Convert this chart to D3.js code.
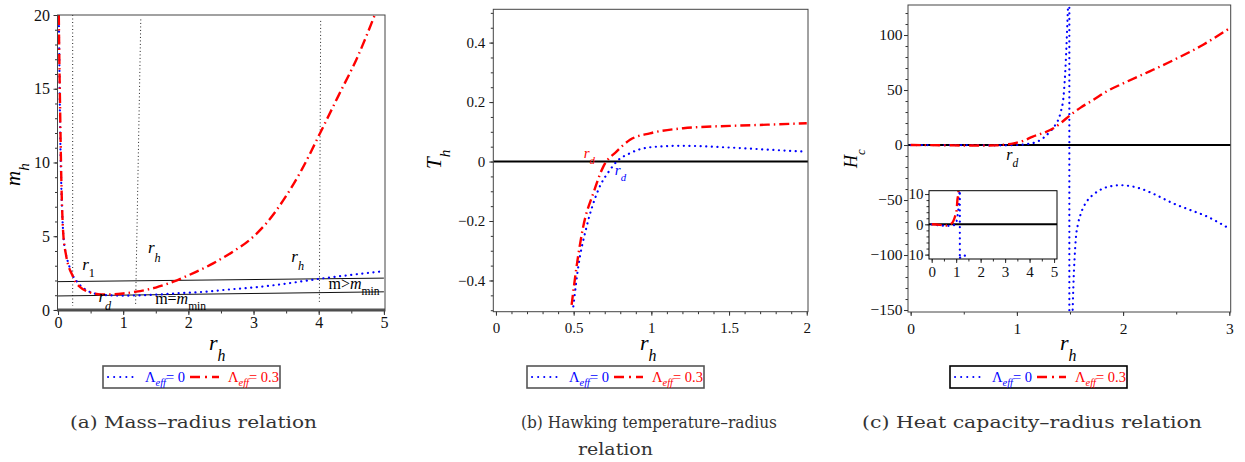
<!DOCTYPE html>
<html>
<head>
<meta charset="utf-8">
<script src="https://cdn.jsdelivr.net/npm/d3@7"></script>
<style>
body { margin: 0; background: #fff; }
svg { display: block; }
</style>
</head>
<body>
<svg width="1245" height="462"></svg>
<script>
// (a) mass-radius, values as [r_h, m_h]
var massBlue = [[0.012,20],[0.02,17],[0.03,13],[0.05,8.5],[0.08,5.2],[0.12,3.8],[0.16,3.16],[0.2,2.6],
  [0.29,1.92],[0.4,1.45],[0.5,1.2],[0.6,1.07],[0.75,1.0],[1.0,0.97],[1.25,0.99],[1.51,1.04],[1.9,1.15],
  [2.2,1.22],[2.6,1.38],[3.2,1.62],[3.6,1.85],[4.02,2.12],[4.5,2.38],[4.94,2.6]];
var massRed = [[0.012,20],[0.02,17],[0.03,14.2],[0.05,9],[0.08,5.2],[0.12,3.8],[0.16,3.0],[0.21,2.45],
  [0.27,1.9],[0.34,1.55],[0.45,1.25],[0.55,1.12],[0.65,1.06],[0.8,1.06],[1.0,1.12],[1.2,1.24],[1.5,1.52],
  [1.77,1.92],[2.0,2.35],[2.38,3.16],[2.7,4.0],[2.94,4.75],[3.2,5.9],[3.46,7.46],[3.75,9.6],[4.02,11.98],
  [4.3,14.5],[4.6,17.2],[4.86,20]];
var massLevels = [[[0,1.92],[5,2.16]], [[0,0.95],[5,1.23]]];
var massVerticals = [[[0.225,20],[0.225,0.27]], [[1.27,19.7],[1.19,0.25]], [[4.03,19.6],[4.01,0.55]]];

// (b) Hawking temperature, [r_h, T_h]
var tempBlue = [[0.498,-0.487],[0.53,-0.353],[0.584,-0.218],[0.659,-0.095],[0.734,-0.028],[0.777,0],
  [0.863,0.028],[0.991,0.048],[1.185,0.053],[1.506,0.047],[1.75,0.04],[2,0.033]];
var tempRed = [[0.487,-0.482],[0.519,-0.353],[0.562,-0.218],[0.627,-0.106],[0.691,-0.017],[0.777,0.034],
  [0.863,0.073],[0.991,0.095],[1.206,0.112],[1.506,0.12],[1.75,0.124],[2,0.129]];

// (c) heat capacity, [r_h, H_c]
var heatRed = [[0,0],[0.3,-0.2],[0.6,-0.5],[0.8,-0.3],[0.9,0.5],[0.97,1.5],[1.05,3.5],[1.15,7.6],
  [1.25,11],[1.34,15],[1.42,20.5],[1.5,27],[1.6,34],[1.72,41],[1.85,49],[2.0,56],[2.25,67],[2.47,77],
  [2.75,91],[3.0,106]];
var heatBlueUpper = [[0,0],[0.5,0],[0.8,-0.3],[1.0,0],[1.1,1],[1.19,3],[1.25,6.5],[1.31,12],[1.36,18],
  [1.41,29],[1.44,45],[1.46,75],[1.475,110],[1.485,135]];
var heatBlueJump = [[1.494,135],[1.494,-160]];
var heatBlueLower = [[1.522,-160],[1.525,-150],[1.535,-120],[1.545,-100],[1.555,-85],[1.575,-72],
  [1.6,-63],[1.66,-51],[1.72,-45],[1.78,-41],[1.88,-37.5],[1.97,-36.5],[2.16,-39.5],[2.3,-45],
  [2.47,-53],[2.63,-59],[2.79,-65],[3.0,-76]];
var insetRed = [[0,0],[0.34,-0.2],[0.6,-0.4],[0.82,0.3],[0.95,2.5],[1.02,4.7],[1.05,8],[1.09,10.4],[1.1,12]];
var insetBlue = [[0,0],[0.6,-0.5],[0.95,-0.2],[1.05,2.5],[1.1,5.8],[1.13,9.7],[1.14,12]];
var insetBlueJump = [[1.15,12],[1.15,-11.5]];
var insetBlueLow = [[1.16,-11],[1.18,-10.6],[1.3,-10.4],[1.5,-10.2]];

// ticks
var massXMajor = [0,1,2,3,4,5], massXMinor = d3.range(0,5.01,0.5);
var massYMajor = [0,5,10,15,20], massYMinor = d3.range(0,20.1,1);
var tempXMajor = [0,0.5,1,1.5,2], tempXMinor = d3.range(0,2.001,0.1);
var tempYMajor = [-0.4,-0.2,0,0.2,0.4], tempYMinor = d3.range(-0.5,0.501,0.05);
var heatXMajor = [0,1,2,3], heatXMinor = d3.range(0,3.01,0.5);
var heatYMajor = [-150,-100,-50,0,50,100], heatYMinor = d3.range(-150,121,10);
var insetXMajor = [0,1,2,3,4,5], insetYMajor = [-10,0,10];

var captions = ["(a)  Mass\u2013radius relation", "(b) Hawking temperature\u2013radius", "relation",
  "(c) Heat capacity\u2013radius relation"];

var serif = "'Liberation Serif', serif";
var capFont = "'DejaVu Serif', serif";
var blue = "#0000ff", red = "#ff0000";
var svg = d3.select("svg");
var fmt = d3.format("~g");
var clipId = 0;

function rich(sel, x, y, parts, size, color) {
  var t = sel.append("text").attr("x", x).attr("y", y)
    .attr("font-size", size).attr("font-family", serif).attr("fill", color || "#000");
  var shift = 0;
  parts.forEach(function(p) {
    var target = p.sub ? size * (p.dy || 0.45) : 0;
    var ts = t.append("tspan").text(p.t).attr("dy", target - shift);
    shift = target;
    if (p.sub) ts.attr("font-size", size * 0.72);
    if (p.it) ts.attr("font-style", "italic");
  });
  return t;
}

function makePanel(p) {
  var g = svg.append("g");
  var x = d3.scaleLinear().domain(p.xd).range([p.box.l, p.box.r]);
  var y = d3.scaleLinear().domain(p.yd).range([p.box.b, p.box.t]);
  var id = "clip" + (clipId++);
  svg.append("clipPath").attr("id", id).append("rect")
    .attr("x", p.box.l).attr("y", p.box.t)
    .attr("width", p.box.r - p.box.l).attr("height", p.box.b - p.box.t);

  if (p.bg) g.append("rect").attr("x", p.box.l).attr("y", p.box.t)
    .attr("width", p.box.r - p.box.l).attr("height", p.box.b - p.box.t).attr("fill", "#fff");

  var ax = [
    g.append("g").attr("transform", "translate(0," + p.box.b + ")")
      .call(d3.axisBottom(x).tickValues(p.xMinor || []).tickSize(2.5).tickFormat("")),
    g.append("g").attr("transform", "translate(0," + p.box.b + ")")
      .call(d3.axisBottom(x).tickValues(p.xMajor).tickSize(4).tickPadding(p.xPad).tickFormat(fmt)),
    g.append("g").attr("transform", "translate(" + p.box.l + ",0)")
      .call(d3.axisLeft(y).tickValues(p.yMinor || []).tickSize(2.5).tickFormat("")),
    g.append("g").attr("transform", "translate(" + p.box.l + ",0)")
      .call(d3.axisLeft(y).tickValues(p.yMajor).tickSize(4).tickPadding(p.yPad).tickFormat(p.yFmt || fmt))
  ];
  ax.forEach(function(a) {
    a.attr("font-family", serif);
    a.select(".domain").remove();
    a.selectAll("line").attr("stroke", "#333");
    a.selectAll("text").attr("font-family", serif).attr("font-size", p.fs || 15).attr("fill", "#111");
  });

  var plot = g.append("g").attr("clip-path", "url(#" + id + ")");
  g.append("rect").attr("x", p.box.l).attr("y", p.box.t)
    .attr("width", p.box.r - p.box.l).attr("height", p.box.b - p.box.t)
    .attr("fill", "none").attr("stroke", p.frame || "#444").attr("stroke-width", 1);
  return { g: g, plot: plot, x: x, y: y };
}

function draw(P, data, style, curve) {
  var line = d3.line().x(function(d) { return P.x(d[0]); }).y(function(d) { return P.y(d[1]); })
    .curve(curve || d3.curveMonotoneX);
  var path = P.plot.append("path").datum(data).attr("d", line).attr("fill", "none");
  if (style === "blue") path.attr("stroke", blue).attr("stroke-width", 2.2)
    .attr("stroke-linecap", "round").attr("stroke-dasharray", "0.1 5.5");
  else if (style === "red") path.attr("stroke", red).attr("stroke-width", 2.4)
    .attr("stroke-dasharray", "10 4 1.5 4");
  else if (style === "dot") path.attr("stroke", "#222").attr("stroke-width", 1)
    .attr("stroke-dasharray", "1 2.5");
  else path.attr("stroke", style.c).attr("stroke-width", style.w);
  return path;
}

function legend(x0, y0, border) {
  var g = svg.append("g");
  g.append("rect").attr("x", x0).attr("y", y0).attr("width", 177).attr("height", 22)
    .attr("fill", "#fff").attr("stroke", border).attr("stroke-width", 1.6);
  var cy = y0 + 11;
  g.append("line").attr("x1", x0 + 5).attr("x2", x0 + 30).attr("y1", cy).attr("y2", cy)
    .attr("stroke", blue).attr("stroke-width", 2).attr("stroke-linecap", "round")
    .attr("stroke-dasharray", "0.1 6");
  rich(g, x0 + 42, cy + 5, [{t: "\u039b"}, {t: "eff", it: true, sub: true, dy: 0.3}, {t: "= 0"}], 14.5, blue);
  g.append("line").attr("x1", x0 + 87).attr("x2", x0 + 116).attr("y1", cy).attr("y2", cy)
    .attr("stroke", red).attr("stroke-width", 2.6).attr("stroke-dasharray", "10 5 2 5");
  rich(g, x0 + 125, cy + 5, [{t: "\u039b"}, {t: "eff", it: true, sub: true, dy: 0.3}, {t: "= 0.3"}], 14.5, red);
}

// ---------- (a) ----------
var A = makePanel({ box: {l: 57.5, r: 385, t: 15, b: 311}, xd: [-0.008, 5.017], yd: [-0.07, 20],
  xMajor: massXMajor, xMinor: massXMinor, yMajor: massYMajor, yMinor: massYMinor, xPad: 2, yPad: 3.5, fs: 16 });
massVerticals.forEach(function(v) { draw(A, v, "dot", d3.curveLinear); });
massLevels.forEach(function(v) { draw(A, v, {c: "#111", w: 1}, d3.curveLinear); });
draw(A, [[-0.1, 0], [5.1, 0]], {c: "#555", w: 3}, d3.curveLinear);
draw(A, massBlue, "blue");
draw(A, massRed, "red");
rich(A.g, A.x(0.37), A.y(2.7), [{t: "r", it: true}, {t: "1", sub: true, dy: 0.4}], 17);
rich(A.g, A.x(1.38), A.y(3.86), [{t: "r", it: true}, {t: "h", it: true, sub: true, dy: 0.5}], 17);
rich(A.g, A.x(3.58), A.y(3.27), [{t: "r", it: true}, {t: "h", it: true, sub: true, dy: 0.5}], 17);
rich(A.g, A.x(0.62), A.y(0.56), [{t: "r", it: true}, {t: "d", it: true, sub: true, dy: 0.5}], 17);
rich(A.g, A.x(1.49), A.y(0.41), [{t: "m="}, {t: "m", it: true}, {t: "min", sub: true, dy: 0.4}], 16);
rich(A.g, A.x(4.15), A.y(1.42), [{t: "m>"}, {t: "m", it: true}, {t: "min", sub: true, dy: 0.4}], 16);
rich(svg, 0, 0, [{t: "m", it: true}, {t: "h", it: true, sub: true, dy: 0.45}], 21)
  .attr("transform", "translate(20,186) rotate(-90)");
rich(svg, 209, 350, [{t: "r", it: true}, {t: "h", it: true, sub: true, dy: 0.5}], 22);
legend(103, 366, "#555");

// ---------- (b) ----------
var B = makePanel({ box: {l: 493.3, r: 808, t: 9.3, b: 311.7}, xd: [-0.017, 2.008], yd: [-0.505, 0.512],
  xMajor: tempXMajor, xMinor: tempXMinor, yMajor: tempYMajor, yMinor: tempYMinor, xPad: 7, yPad: 4, fs: 15 });
draw(B, [[-0.1, 0], [2.1, 0]], {c: "#000", w: 2}, d3.curveLinear);
draw(B, tempBlue, "blue");
draw(B, tempRed, "red");
rich(B.g, B.x(0.565), B.y(0.012), [{t: "r", it: true}, {t: "d", it: true, sub: true, dy: 0.4}], 15, red);
rich(B.g, B.x(0.765), B.y(-0.045), [{t: "r", it: true}, {t: "d", it: true, sub: true, dy: 0.4}], 15, blue);
rich(svg, 0, 0, [{t: "T", it: true}, {t: "h", it: true, sub: true, dy: 0.45}], 21)
  .attr("transform", "translate(441,169) rotate(-90)");
rich(svg, 640, 350, [{t: "r", it: true}, {t: "h", it: true, sub: true, dy: 0.5}], 22);
legend(527, 366, "#555");

// ---------- (c) ----------
var C = makePanel({ box: {l: 908, r: 1230.7, t: 5, b: 312}, xd: [-0.025, 3.013], yd: [-151.8, 127.3],
  xMajor: heatXMajor, xMinor: heatXMinor, yMajor: heatYMajor, yMinor: heatYMinor, xPad: 7, yPad: 1.5, fs: 15.5 });
draw(C, [[-0.1, 0], [3.1, 0]], {c: "#000", w: 2}, d3.curveLinear);
draw(C, heatBlueUpper, "blue");
draw(C, heatBlueJump, "blue", d3.curveLinear);
draw(C, heatBlueLower, "blue");
draw(C, heatRed, "red");
rich(C.g, C.x(0.9), C.y(-14), [{t: "r", it: true}, {t: "d", it: true, sub: true, dy: 0.4}], 16);
rich(svg, 0, 0, [{t: "H", it: true}, {t: "c", it: true, sub: true, dy: 0.45}], 18)
  .attr("transform", "translate(857,168) rotate(-90)");
rich(svg, 1060, 350, [{t: "r", it: true}, {t: "h", it: true, sub: true, dy: 0.5}], 22);
legend(950, 366, "#000");

// inset (its -10 label shows only "10", the minus is hidden by the outer axis)
var I = makePanel({ box: {l: 929, r: 1057, t: 190.7, b: 259}, xd: [-0.11, 5.12], yd: [-11.45, 11.1],
  xMajor: insetXMajor, xMinor: d3.range(0, 5.01, 0.5), yMajor: insetYMajor, yMinor: d3.range(-10, 10.1, 2),
  xPad: 3, yPad: 1.5, fs: 15, frame: "#000", bg: true, yFmt: function(d) { return fmt(Math.abs(d)); } });
draw(I, [[-0.2, 0], [5.2, 0]], {c: "#000", w: 2}, d3.curveLinear);
draw(I, insetBlue, "blue");
draw(I, insetBlueJump, "blue", d3.curveLinear);
draw(I, insetBlueLow, "blue", d3.curveLinear);
draw(I, insetRed, "red");

// captions, stretched to the widths they take in the picture
var cap = svg.append("g").attr("font-family", capFont).attr("font-size", 17.5).attr("fill", "#333");
[[captions[0], 70, 428, 247], [captions[1], 521, 428, 256], [captions[2], 578, 455, 75],
 [captions[3], 862, 428, 340]].forEach(function(c) {
  cap.append("text").attr("x", c[1]).attr("y", c[2]).attr("textLength", c[3])
    .attr("lengthAdjust", "spacingAndGlyphs").text(c[0]);
});
</script>
</body>
</html>
